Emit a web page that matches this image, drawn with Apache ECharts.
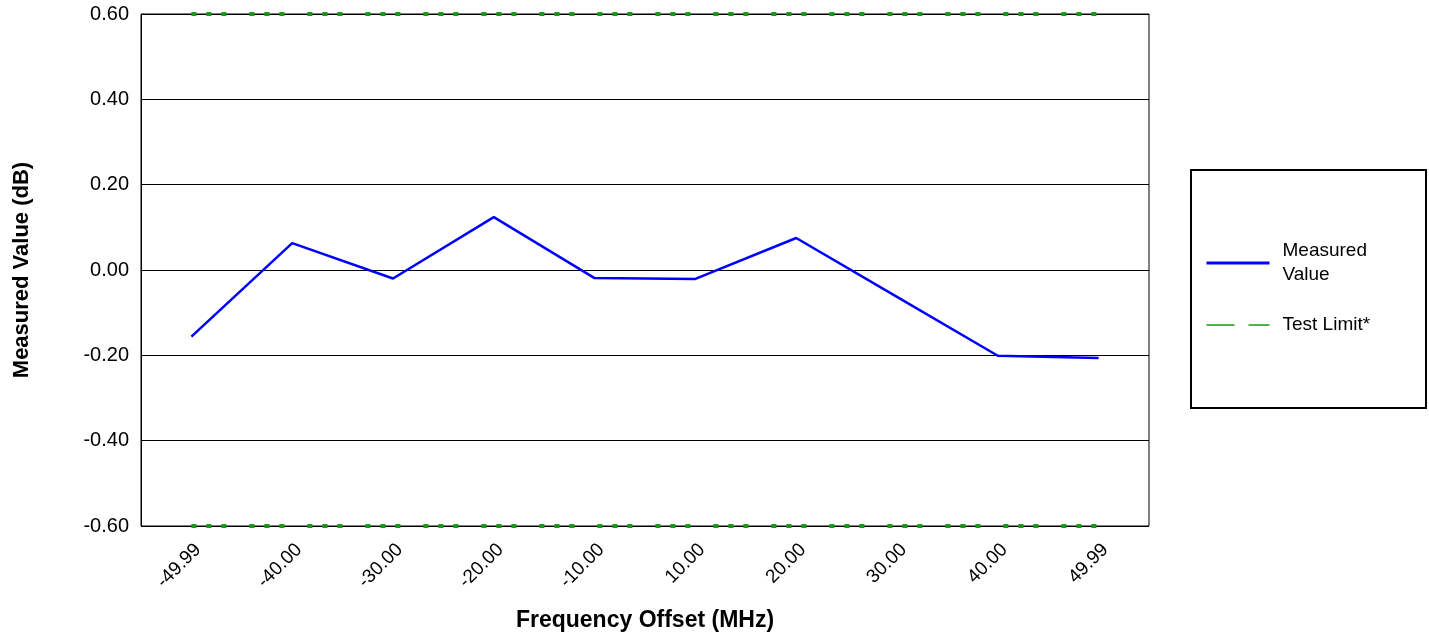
<!DOCTYPE html>
<html>
<head>
<meta charset="utf-8">
<script src="https://cdn.jsdelivr.net/npm/echarts@6/dist/echarts.min.js"></script>
<style>
html,body{margin:0;padding:0;background:#fff;}
#chart{width:1429px;height:637px;}
</style>
</head>
<body>
<div id="chart"></div>
<script>
const categories = ['-49.99','-40.00','-30.00','-20.00','-10.00','10.00','20.00','30.00','40.00','49.99'];
const measured = [-0.156, 0.063, -0.020, 0.124, -0.019, -0.021, 0.075, -0.063, -0.201, -0.206];
const upperLimit = [0.6,0.6,0.6,0.6,0.6,0.6,0.6,0.6,0.6,0.6];
const lowerLimit = [-0.6,-0.6,-0.6,-0.6,-0.6,-0.6,-0.6,-0.6,-0.6,-0.6];
const yMin = -0.6, yMax = 0.6, yStep = 0.2;

const green = '#179a17';
const font = 'Arial, "Liberation Sans", sans-serif';
const chart = echarts.init(document.getElementById('chart'), null, {renderer:'canvas'});
chart.setOption({
  animation: false,
  backgroundColor: '#fff',
  grid: {left: 141, top: 14, right: 280, bottom: 111, show: true, borderColor: '#000', borderWidth: 1},
  graphic: [{
    type: 'rect', left: 1190, top: 169, z: 0,
    shape: {width: 235, height: 238},
    style: {fill: '#fff', stroke: '#000', lineWidth: 2}
  }],
  legend: {
    orient: 'vertical', left: 1205, top: 233, padding: 0, itemWidth: 63, itemHeight: 14, itemGap: 20,
    itemStyle: {opacity: 0},
    textStyle: {fontFamily: font, fontSize: 19, color: '#000', lineHeight: 24, padding: [0,0,0,8]},
    data: [
      {name: 'Measured\nValue', lineStyle: {color: '#0000ff', width: 3},
       textStyle: {padding: [0,0,12,8]}},
      {name: 'Test Limit*', lineStyle: {type: [28, 14], width: 1.5, color: green}}
    ]
  },
  xAxis: {
    type: 'category', data: categories, boundaryGap: true,
    name: 'Frequency Offset (MHz)', nameLocation: 'middle', nameGap: 83,
    nameTextStyle: {fontFamily: font, fontSize: 23, fontWeight: 'bold', color: '#000'},
    axisLine: {lineStyle: {color: '#000', width: 1}},
    axisTick: {alignWithLabel: true, inside: true, length: 6, lineStyle: {color: '#000'}},
    axisLabel: {rotate: 45, fontFamily: font, fontSize: 19, color: '#000', margin: 14, verticalAlign: 'top'},
    splitLine: {show: false}
  },
  yAxis: {
    type: 'value', min: yMin, max: yMax, interval: yStep,
    name: 'Measured Value (dB)', nameLocation: 'middle', nameGap: 108,
    nameTextStyle: {fontFamily: font, fontSize: 22, fontWeight: 'bold', color: '#000'},
    axisLine: {show: true, lineStyle: {color: '#000'}},
    axisTick: {show: false},
    axisLabel: {fontFamily: font, fontSize: 20, color: '#000', margin: 12, formatter: v => v.toFixed(2)},
    splitLine: {lineStyle: {color: '#000', width: 1}}
  },
  series: [
    {name: 'Measured\nValue', type: 'line', data: measured, symbol: 'none', z: 5,
     lineStyle: {color: '#0000ff', width: 2.5}, itemStyle: {color: '#0000ff'}},
    {name: 'Test Limit*', type: 'line', data: upperLimit, symbol: 'none', z: 6,
     lineStyle: {color: green, width: 4, type: [5, 10, 5, 10, 5, 23]}, itemStyle: {color: green}},
    {name: 'Test Limit*', type: 'line', data: lowerLimit, symbol: 'none', z: 6,
     lineStyle: {color: green, width: 4, type: [5, 10, 5, 10, 5, 23]}, itemStyle: {color: green}}
  ]
});
</script>
</body>
</html>
